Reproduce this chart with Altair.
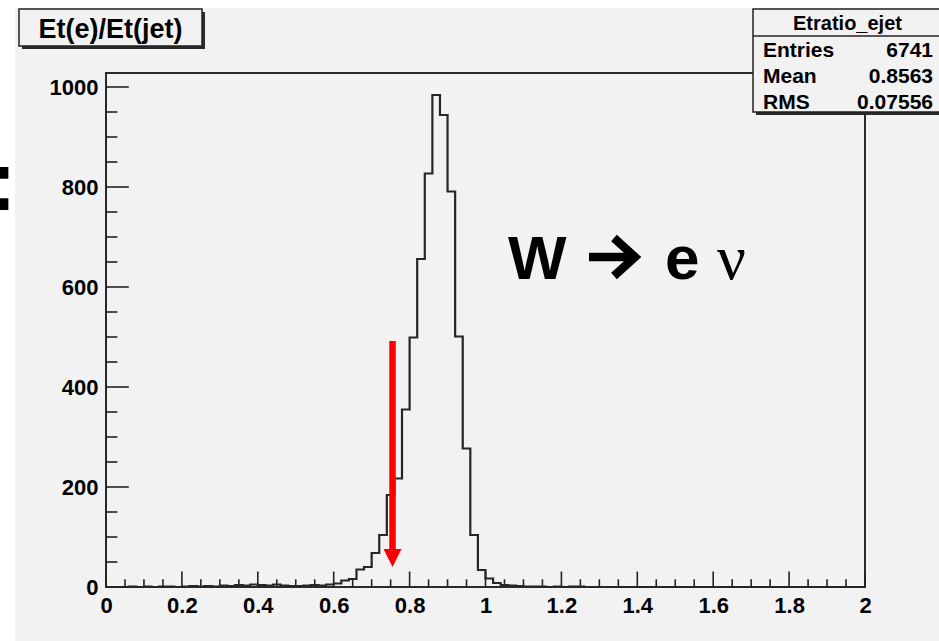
import altair as alt
import pandas as pd

# ---------------- data ----------------
bin_width = 0.02
counts = [
    0, 0, 0, 1, 0, 1, 0, 1, 1, 0,
    1, 2, 1, 2, 1, 3, 2, 4, 3, 5,
    4, 3, 5, 3, 2, 2, 3, 4, 3, 5,
    7, 13, 16, 35, 40, 68, 104, 184, 217, 355,
    499, 656, 827, 984, 944, 791, 501, 277, 104, 34,
    17, 8, 4, 3, 2, 1, 1, 1, 0, 1,
    0, 1, 1, 0, 0, 0, 0, 0, 0, 0,
    0, 0, 0, 0, 0, 0, 0, 0, 0, 0,
    0, 0, 0, 0, 0, 0, 0, 0, 0, 0,
    0, 0, 0, 0, 0, 0, 0, 0, 0, 0,
]
x_major = [0, 0.2, 0.4, 0.6, 0.8, 1, 1.2, 1.4, 1.6, 1.8, 2]
x_minor = [0.05, 0.1, 0.15, 0.25, 0.3, 0.35, 0.45, 0.5, 0.55, 0.65, 0.7, 0.75,
           0.85, 0.9, 0.95, 1.05, 1.1, 1.15, 1.25, 1.3, 1.35, 1.45, 1.5, 1.55,
           1.65, 1.7, 1.75, 1.85, 1.9, 1.95]
y_major = [0, 200, 400, 600, 800, 1000]
y_minor = [50, 100, 150, 250, 300, 350, 450, 500, 550, 650, 700, 750, 850, 900, 950]

title_text = "Et(e)/Et(jet)"
stats_name = "Etratio_ejet"
stats_labels = ["Entries", "Mean", "RMS"]
stats_values = ["6741", "0.8563", "0.07556"]

cut_x = [0.755]
arrow_top = [492]
arrow_base = [76]
arrow_head = [58]

process_W = ["W"]
process_e = ["e"]
process_nu = ["ν"]
label_x = [1.0593, 1.473, 1.610]
label_y = [616]
arrow_sym_x = [1.3333]
arrow_sym_y = [660]

# ---------------- layout ----------------
W, H = 759, 514
OX, OY = 106, 73          # plot origin in page pixels
BG = "#f2f2f2"
FONT = "Liberation Sans"


def rx(px):
    return px - OX


def ry(py):
    return py - OY


xscale = alt.Scale(domain=[0, 2], nice=False, zero=False)
yscale = alt.Scale(domain=[0, 1028], nice=False, zero=False)

x_axis = alt.Axis(values=x_major, format="~g", labelFont=FONT, labelFontWeight="bold",
                  labelFontSize=22, labelColor="black", ticks=False, domain=False,
                  grid=False, labelPadding=8, title=None, labelFlush=False,
                  labelOverlap=False, zindex=2)
y_axis = alt.Axis(values=y_major, format="d", labelFont=FONT, labelFontWeight="bold",
                  labelFontSize=22, labelColor="black", ticks=False, domain=False,
                  grid=False, labelPadding=8, title=None, labelFlush=False,
                  labelOverlap=False, labelBaseline="middle", zindex=2)


def X(field):
    return alt.X(field, type="quantitative", scale=xscale, axis=x_axis, title=None)


def Y(field):
    return alt.Y(field, type="quantitative", scale=yscale, axis=y_axis, title=None)


one = pd.DataFrame({"d": [0]})

bg = alt.Chart(one).mark_rect(color=BG).encode(
    x=alt.value(rx(15)), x2=alt.value(rx(945)), y=alt.value(ry(8)), y2=alt.value(ry(645)))

frame = alt.Chart(one).mark_rect(fillOpacity=0, stroke="#2a2a2a", strokeWidth=2).encode(
    x=alt.value(0), x2=alt.value(W), y=alt.value(0), y2=alt.value(H))

xmaj = alt.Chart(pd.DataFrame({"v": x_major})).mark_rule(color="#222", strokeWidth=1.6).encode(
    x=X("v"), y=alt.value(H), y2=alt.value(H - 15.4))
xmin = alt.Chart(pd.DataFrame({"v": x_minor})).mark_rule(color="#222", strokeWidth=1.6).encode(
    x=X("v"), y=alt.value(H), y2=alt.value(H - 7.7))
ymaj = alt.Chart(pd.DataFrame({"v": y_major})).mark_rule(color="#222", strokeWidth=1.6).encode(
    y=Y("v"), x=alt.value(0), x2=alt.value(22.8))
ymin = alt.Chart(pd.DataFrame({"v": y_minor})).mark_rule(color="#222", strokeWidth=1.6).encode(
    y=Y("v"), x=alt.value(0), x2=alt.value(11.4))

hist_df = pd.DataFrame({
    "x": [round(i * bin_width, 4) for i in range(len(counts))] + [2.0],
    "c": counts + [0],
})
hist = alt.Chart(hist_df).mark_line(interpolate="step-after", color="#262626",
                                    strokeWidth=2.2).encode(x=X("x"), y=Y("c"))

cut_df = pd.DataFrame({"x": cut_x, "top": arrow_top, "base": arrow_base, "head": arrow_head})
shaft = alt.Chart(cut_df).mark_rule(color="#ff0000", strokeWidth=6.5).encode(
    x=X("x"), y=Y("top"), y2="base:Q")
head = alt.Chart(cut_df).mark_point(shape="M-1,-1L1,-1L0,1Z", size=324, filled=True,
                                    color="#ff0000", opacity=1, strokeWidth=0).encode(
    x=X("x"), y=Y("head"))

txt_W = alt.Chart(pd.DataFrame({"x": [label_x[0]], "y": label_y, "t": process_W})).mark_text(
    align="left", baseline="alphabetic", font=FONT, fontSize=62, fontWeight="bold",
    color="black").encode(x=X("x"), y=Y("y"), text="t:N")
txt_e = alt.Chart(pd.DataFrame({"x": [label_x[1]], "y": label_y, "t": process_e})).mark_text(
    align="left", baseline="alphabetic", font=FONT, fontSize=62, fontWeight="bold",
    color="black").encode(x=X("x"), y=Y("y"), text="t:N")
txt_nu = alt.Chart(pd.DataFrame({"x": [label_x[2]], "y": label_y, "t": process_nu})).mark_text(
    align="left", baseline="alphabetic", font="Liberation Serif", fontSize=64,
    color="black").encode(x=X("x"), y=Y("y"), text="t:N")
arrow_sym = alt.Chart(pd.DataFrame({"x": arrow_sym_x, "y": arrow_sym_y})).mark_point(
    shape="M-1,0L1,0M0.087,-0.826L1,0L0.087,0.826", size=2116, filled=False,
    color="black", opacity=1, strokeWidth=8.5, strokeJoin="miter", strokeCap="butt",
    strokeMiterLimit=10).encode(x=X("x"), y=Y("y"))

# clipped colon at the left edge of the page
colon = alt.Chart(pd.DataFrame({"t": [":"]})).mark_text(
    align="left", baseline="alphabetic", font=FONT, fontSize=86, fontWeight="bold",
    color="black").encode(x=alt.value(rx(-12)), y=alt.value(ry(210)), text="t:N")

# title box
t_shadow = alt.Chart(one).mark_rect(color="#2a2a2a").encode(
    x=alt.value(rx(22)), x2=alt.value(rx(205)), y=alt.value(ry(12)), y2=alt.value(ry(49)))
t_box = alt.Chart(one).mark_rect(fill=BG, stroke="#222", strokeWidth=1.5).encode(
    x=alt.value(rx(19)), x2=alt.value(rx(202)), y=alt.value(ry(9)), y2=alt.value(ry(46)))
t_text = alt.Chart(pd.DataFrame({"t": [title_text]})).mark_text(
    align="center", baseline="alphabetic", font=FONT, fontSize=27, fontWeight="bold",
    color="black").encode(x=alt.value(rx(110.5)), y=alt.value(ry(38)), text="t:N")

# stats box
s_shadow = alt.Chart(one).mark_rect(color="#2a2a2a").encode(
    x=alt.value(rx(756)), x2=alt.value(rx(948)), y=alt.value(ry(12)), y2=alt.value(ry(115)))
s_box = alt.Chart(one).mark_rect(fill=BG, stroke="#222", strokeWidth=1.5).encode(
    x=alt.value(rx(753)), x2=alt.value(rx(945)), y=alt.value(ry(9)), y2=alt.value(ry(112)))
s_line = alt.Chart(one).mark_rule(color="#222", strokeWidth=1.5).encode(
    x=alt.value(rx(753)), x2=alt.value(rx(945)), y=alt.value(ry(36)))
s_head = alt.Chart(pd.DataFrame({"t": [stats_name]})).mark_text(
    align="center", baseline="alphabetic", font=FONT, fontSize=20, fontWeight="bold",
    color="black").encode(x=alt.value(rx(847.5)), y=alt.value(ry(29.5)), text="t:N")

row_base = [57, 83, 108.5]
s_rows = []
for lab, val, b in zip(stats_labels, stats_values, row_base):
    s_rows.append(alt.Chart(pd.DataFrame({"t": [lab]})).mark_text(
        align="left", baseline="alphabetic", font=FONT, fontSize=21, fontWeight="bold",
        color="black").encode(x=alt.value(rx(763)), y=alt.value(ry(b)), text="t:N"))
    s_rows.append(alt.Chart(pd.DataFrame({"t": [val]})).mark_text(
        align="right", baseline="alphabetic", font=FONT, fontSize=21, fontWeight="bold",
        color="black").encode(x=alt.value(rx(933)), y=alt.value(ry(b)), text="t:N"))

chart = alt.layer(
    bg, frame, xmaj, xmin, ymaj, ymin, hist, shaft, head,
    txt_W, arrow_sym, txt_e, txt_nu, colon,
    t_shadow, t_box, t_text,
    s_shadow, s_box, s_line, s_head, *s_rows,
).properties(
    width=W, height=H,
    padding={"left": OX, "top": OY, "right": 939 - OX - W, "bottom": 641 - OY - H},
    autosize=alt.AutoSizeParams(type="none"),
    background="white",
).configure_view(stroke=None)

chart.save("out.html", embed_options={"renderer": "svg", "actions": False})
